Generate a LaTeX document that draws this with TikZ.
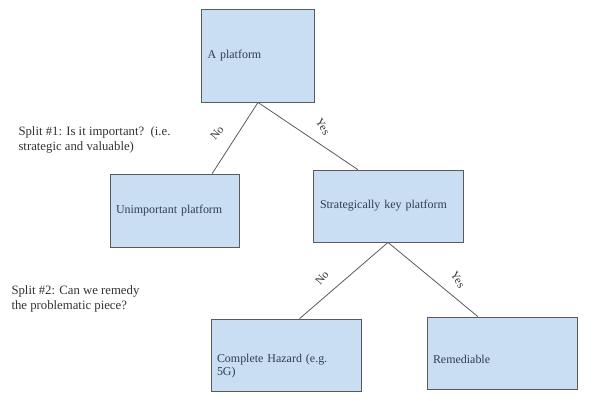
\documentclass[tikz,border=0pt]{standalone}
\usepackage{fontspec}
\setmainfont{Liberation Serif}
\usetikzlibrary{calc,positioning}
\definecolor{boxfill}{HTML}{C9DEF2}
\definecolor{boxline}{HTML}{5A5A5A}
\definecolor{boxtext}{HTML}{2E3D55}
\definecolor{notetext}{HTML}{333333}

\begin{document}
\begin{tikzpicture}[x=1bp, y=-1bp,
    box/.style={draw=boxline, line width=0.8bp, fill=boxfill, text=boxtext, font=\fontsize{12}{13}\selectfont, inner sep=0pt, align=left},
    edge/.style={draw=boxline, line width=0.8bp},
    answer/.style={font=\fontsize{11.5}{12}\selectfont, text=notetext},
    note/.style={font=\fontsize{12.8}{15.5}\selectfont, text=notetext, align=left, anchor=west}]

  \useasboundingbox (0,0) rectangle (602,400);

  % Root
  \node[box, minimum width=113bp, minimum height=93bp, text width=101bp] (root) at (258,55.5) {\mbox{}\\[-5bp]A platform};

  % Split #1
  \node[box, minimum width=129bp, minimum height=73bp, text width=117bp] (unimp) at (174.5,210.5) {Unimportant platform};
  \node[box, minimum width=150bp, minimum height=72bp, text width=136bp] (key) at (388,206) {Strategically key platform};

  % Split #2
  \node[box, minimum width=150bp, minimum height=72bp, text width=138bp] (hazard) at (286,355) {\mbox{}\\[18bp]Complete Hazard (e.g.\\5G)};
  \node[box, minimum width=150bp, minimum height=72bp, text width=138bp] (remed) at (502,353) {\mbox{}\\[8bp]Remediable};

  % Connectors
  \draw[edge] (root.south) -- ($(unimp.north west)!0.79!(unimp.north east)$);
  \draw[edge] (root.south) -- ($(key.north west)!0.30!(key.north east)$);
  \draw[edge] (key.south) -- ($(hazard.north west)!0.59!(hazard.north east)$);
  \draw[edge] (key.south) -- ($(remed.north west)!0.34!(remed.north east)$);

  % Answers
  \node[answer, rotate=50] (no1) at (217,133) {No};
  \node[answer, rotate=-58] (yes1) at (323,127) {Yes};
  \node[answer, rotate=50] (no2) at (322,278) {No};
  \node[answer, rotate=-58] (yes2) at (458,280) {Yes};

  % Questions
  \node[note] (q1) at (15,140) {Split \#1: Is it important?~~(i.e.\\strategic and valuable)};
  \node[note] (q2) at (8,299) {Split \#2: Can we remedy\\the problematic piece?};
\end{tikzpicture}
\end{document}
